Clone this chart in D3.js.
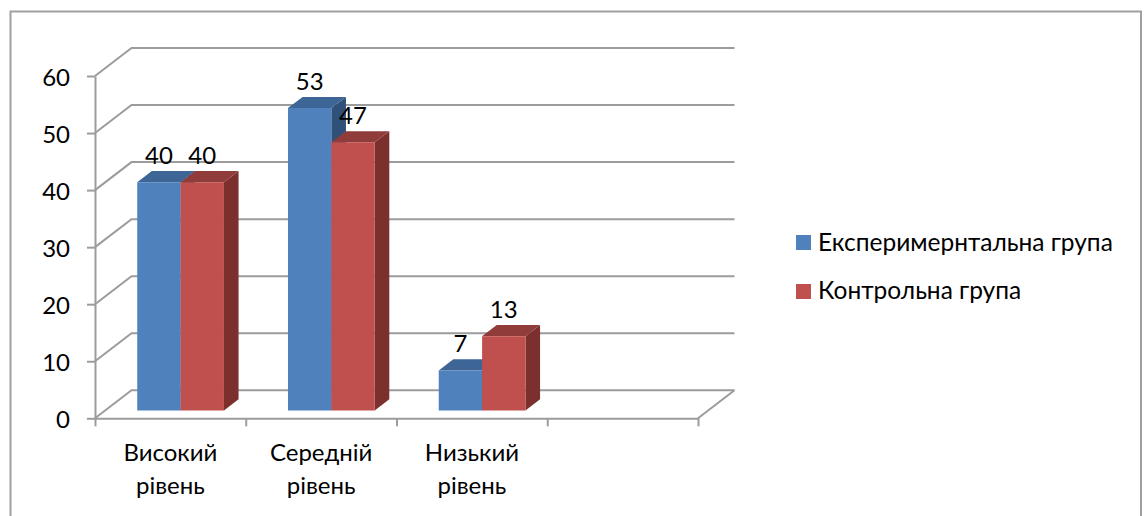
<!DOCTYPE html>
<html><head><meta charset="utf-8">
<script src="https://cdn.jsdelivr.net/npm/d3@7/dist/d3.min.js"></script>
<style>html,body{margin:0;padding:0;background:#fff}svg{display:block}
text{font-family:Lato,"Noto Sans",sans-serif;fill:#000}</style></head>
<body><svg id="c" width="1147" height="516"></svg>
<script>
const categories = [["Високий","рівень"],["Середній","рівень"],["Низький","рівень"],[]];
const seriesNames = ["Експеримернтальна група","Контрольна група"];
const experimental = [40,53,7];
const control = [40,47,13];
const yTicks = [0,10,20,30,40,50,60];
const colors = [
 {front:"#4f81bd",top:"#3d6596",side:"#2f5079"},
 {front:"#c0504d",top:"#8f3c3a",side:"#7b302e"}];
const gridColor="#9c9c9c";

const svg=d3.select("#c");
const W=1147,H=516;
// frame
svg.append("path").attr("d",`M10.5,${H+5}V11.5H1141V${H+5}`).attr("fill","none").attr("stroke","#a0a0a0").attr("stroke-width",2);

const x0=95,x1=698,depthX=36.5,depthY=28;
const y=d3.scaleLinear().domain([0,60]).range([418.3,76]);
const slots=d3.scaleBand().domain(d3.range(categories.length)).range([x0,x1]);
const inner=d3.scaleBand().domain([0,1]).range([0,slots.bandwidth()]).paddingInner(0).paddingOuter(0.738);
const proj=(px,v,z)=>[px+z*depthX,y(v)-z*depthY];
const line=d3.line();

// walls and floor
const g=svg.append("g").attr("fill","none").attr("stroke",gridColor).attr("stroke-width",2);
yTicks.forEach(t=>{
  g.append("path").attr("d",line([proj(x0,t,0),proj(x0,t,1),proj(x1,t,1)]));
});
g.append("path").attr("d",line([proj(x1,0,0),proj(x1,0,1)]));

// axes
const yAxis=d3.axisLeft(y).tickValues(yTicks).tickSize(8).tickSizeOuter(0).tickPadding(16);
const ya=svg.append("g").attr("transform",`translate(${x0},0)`).call(yAxis);
const tickIdx=d3.scaleLinear().domain([0,categories.length]).range([x0,x1]);
const xAxis=d3.axisBottom(tickIdx).tickValues(d3.range(categories.length+1)).tickSize(8).tickSizeOuter(0).tickFormat("");
const xa=svg.append("g").attr("transform",`translate(0,${y(0)})`).call(xAxis);
[ya,xa].forEach(a=>{a.selectAll("path,line").attr("stroke",gridColor).attr("stroke-width",2);});
ya.selectAll("text").attr("font-size",24).attr("font-family",null).attr("fill","#000").attr("dy","0.4em").attr("x",-25);

// bars
const zF=0.28,zB=0.68;
const poly=(pts,fill)=>bars.append("polygon").attr("points",pts.map(p=>p.join(",")).join(" ")).attr("fill",fill);
const bars=svg.append("g");
const labels=[];
categories.forEach((c,i)=>{
  [experimental,control].forEach((vals,s)=>{
    if(i>=vals.length) return;
    const v=vals[i],l=slots(i)+inner(s),r=l+inner.bandwidth(),col=colors[s];
    poly([proj(r,0,zF),proj(r,v,zF),proj(r,v,zB),proj(r,0,zB)],col.side);
    poly([proj(l,v,zF),proj(r,v,zF),proj(r,v,zB),proj(l,v,zB)],col.top);
    poly([proj(l,0,zF),proj(r,0,zF),proj(r,v,zF),proj(l,v,zF)],col.front);
    const p=proj((l+r)/2,v,zF);
    labels.push({x:p[0],y:p[1]-18.5,t:v});
  });
});
svg.append("g").selectAll("text").data(labels).join("text")
  .attr("x",d=>d.x).attr("y",d=>d.y).attr("text-anchor","middle").attr("font-size",24).text(d=>d.t);

// category labels
categories.forEach((c,i)=>{
  c.forEach((t,k)=>{
    svg.append("text").attr("x",slots(i)+slots.bandwidth()/2).attr("y",461+k*33)
      .attr("text-anchor","middle").attr("font-size",24).text(t);
  });
});

// legend
seriesNames.forEach((n,i)=>{
  const ly=[235,284][i];
  svg.append("rect").attr("x",796).attr("y",ly).attr("width",15).attr("height",15).attr("fill",colors[i].front);
  svg.append("text").attr("x",818).attr("y",ly+16-i).attr("font-size",24.5).text(n);
});
</script></body></html>
